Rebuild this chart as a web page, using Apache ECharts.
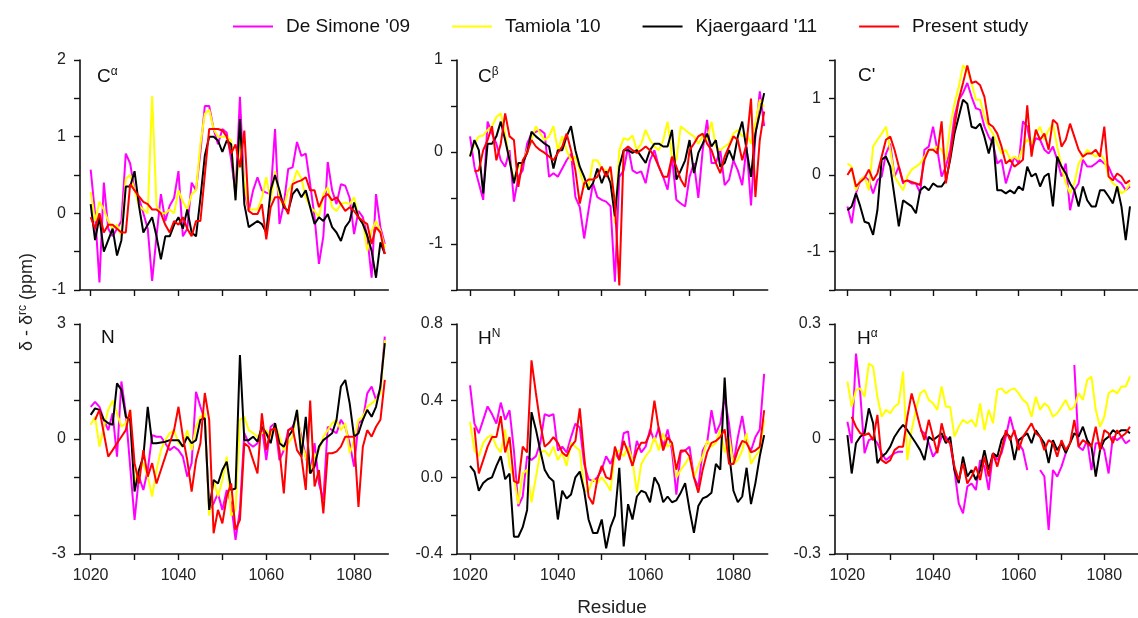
<!DOCTYPE html>
<html>
<head>
<meta charset="utf-8">
<script src="https://cdn.jsdelivr.net/npm/echarts@6/dist/echarts.min.js"></script>
<style>
  html, body { margin: 0; padding: 0; background: #fff; }
  #chart { width: 1138px; height: 618px; }
</style>
</head>
<body>
<div id="chart"></div>
<script>
var residues = [];
for (var r = 1020; r <= 1087; r++) residues.push(r);

var seriesNames = ["De Simone '09", "Tamiola '10", "Kjaergaard '11", 'Present study'];
var seriesColors = ['#ff00ff', '#ffff00', '#000000', '#ff0000'];

// C alpha
var caDeSimone = [0.57,0.0,-0.9,0.4,-0.2,-0.3,-0.2,-0.1,0.78,0.65, 0.3,0.2,0.0,-0.2,-0.88,-0.3,0.25,-0.1,0.1,0.2, 0.55,-0.3,-0.2,0.4,0.3,0.8,1.4,1.4,1.1,0.9, 1.1,1.05,0.7,0.25,1.52,0.3,0.03,0.3,0.47,0.3, 0.27,0.25,1.1,-0.14,0.12,0.58,0.6,0.93,0.75,0.78, 0.38,-0.05,-0.66,-0.3,0.67,0.3,0.12,0.38,0.36,0.2, -0.27,0.03,-0.05,-0.3,-0.84,0.25,-0.18,-0.4];
var caTamiola = [0.28,-0.1,0.15,0.05,-0.1,-0.2,-0.15,-0.3,0.45,0.5, 0.3,0.1,0.05,0.0,1.53,0.1,0.0,0.0,0.05,0.0, 0.3,0.15,0.05,0.25,0.3,0.9,1.3,1.35,1.1,1.0, 1.0,1.0,0.95,0.2,1.0,0.4,0.05,0.05,0.05,0.2, 0.47,0.16,0.55,0.21,0.08,0.3,0.38,0.56,0.45,0.21, 0.08,0.03,-0.05,0.25,0.34,0.08,0.03,0.12,0.14,0.12, 0.21,-0.05,-0.1,-0.49,-0.23,-0.1,-0.23,-0.45];
var caKjaergaard = [0.12,-0.35,-0.05,-0.5,-0.35,-0.2,-0.55,-0.35,0.35,0.35, 0.55,0.1,-0.25,-0.15,-0.05,-0.3,-0.6,-0.3,-0.3,-0.15, -0.05,-0.2,0.05,-0.25,-0.3,0.2,0.75,1.0,1.0,0.95, 0.8,0.95,0.9,0.17,1.23,0.12,-0.18,-0.14,-0.1,-0.14, -0.25,0.3,0.5,0.3,0.08,0.03,0.25,0.32,0.21,0.3, 0.08,-0.14,-0.05,-0.1,-0.01,-0.18,-0.25,-0.36,-0.18,-0.1, 0.14,-0.05,-0.14,-0.29,-0.49,-0.84,-0.38,-0.53];
var caPresent = [-0.05,-0.2,0.0,-0.25,-0.15,-0.15,-0.2,-0.25,-0.25,0.38, 0.3,0.22,0.15,0.12,0.05,0.05,0.0,-0.15,-0.25,-0.1, -0.15,-0.05,-0.2,-0.3,-0.1,-0.1,0.5,1.1,1.1,1.1, 1.08,1.0,0.78,0.9,0.6,1.08,0.03,-0.01,-0.01,0.12, -0.34,0.08,0.21,0.21,0.12,-0.01,0.38,0.41,0.43,0.47, 0.3,0.3,0.08,0.21,0.25,0.17,0.21,0.12,0.03,0.08, 0.03,-0.05,-0.1,-0.14,-0.4,-0.18,-0.25,-0.53];

// C beta
var cbDeSimone = [0.17,-0.16,-0.34,-0.52,0.33,0.2,0.09,-0.09,-0.16,0.02, -0.54,-0.27,-0.2,0.09,0.2,0.22,0.24,0.2,-0.27,-0.23, -0.27,-0.18,-0.09,-0.02,-0.49,-0.6,-0.94,-0.63,-0.34,-0.49, -0.52,-0.54,-0.59,-1.41,-0.27,-0.2,0.06,-0.2,-0.23,-0.21, -0.34,-0.09,0.02,-0.16,-0.27,-0.41,-0.05,-0.52,-0.56,-0.59, -0.27,-0.12,-0.5,0.02,0.35,-0.12,-0.12,0.02,-0.36,-0.3, -0.09,-0.2,-0.36,0.06,-0.58,0.17,0.66,0.28];
var cbTamiola = [-0.04,0.09,0.17,0.18,0.24,0.28,0.38,0.42,0.2,-0.09, -0.3,-0.16,-0.12,0.02,0.13,0.28,0.2,0.13,0.17,0.28, 0.02,0.17,0.02,-0.09,-0.05,-0.2,-0.38,-0.38,-0.09,-0.09, -0.18,-0.2,-0.2,-0.78,0.02,0.15,0.13,0.18,0.02,0.09, 0.24,0.13,0.06,0.02,0.13,0.33,-0.05,-0.09,0.28,0.24, 0.2,0.17,0.09,0.17,0.13,0.33,0.06,0.02,0.06,0.09, 0.2,0.24,0.17,0.2,0.09,0.31,0.57,0.49];
var cbKjaergaard = [-0.05,0.13,0.02,-0.45,0.09,0.09,0.17,0.33,0.13,-0.09, -0.34,-0.12,-0.12,-0.01,0.22,0.17,0.13,0.09,0.06,-0.18, 0.02,0.02,0.17,0.28,0.02,-0.16,-0.27,-0.41,-0.34,-0.18, -0.34,-0.21,-0.34,-0.7,-0.16,0.02,0.02,-0.01,0.02,-0.05, -0.12,0.02,0.09,0.09,0.06,0.06,0.24,-0.3,-0.2,-0.09, 0.13,-0.23,-0.01,0.09,0.2,0.06,0.13,-0.16,-0.12,0.02, -0.09,0.17,0.33,0.02,-0.27,0.2,0.42,0.64];
var cbPresent = [null,-0.21,-0.2,0.02,0.13,0.28,-0.09,0.09,0.42,0.17, 0.13,-0.38,-0.09,-0.01,0.13,0.06,0.02,-0.01,-0.05,-0.09, -0.01,0.06,0.2,0.02,-0.2,-0.56,-0.34,-0.3,-0.3,-0.27, -0.16,-0.27,-0.16,-0.56,-1.45,0.02,0.06,0.02,-0.01,0.02, 0.06,0.02,-0.05,-0.16,-0.27,-0.27,-0.05,-0.16,-0.3,-0.38, 0.02,0.09,0.17,0.2,0.09,0.02,-0.12,-0.23,-0.05,0.06, 0.17,0.13,-0.09,0.09,0.58,-0.49,0.13,0.44];

// C'
var cpDeSimone = [-0.41,-0.63,-0.24,-0.07,-0.02,-0.07,-0.24,-0.07,-0.02,0.28, 0.41,-0.02,0.11,-0.11,-0.07,-0.11,-0.11,-0.24,0.33,0.37, 0.63,0.33,-0.02,0.11,0.33,0.76,0.98,1.07,1.2,1.02, 0.87,0.85,0.63,0.5,0.41,0.15,0.2,-0.11,0.07,0.24, 0.15,0.7,0.63,0.33,0.48,0.46,0.33,0.28,0.37,0.2, -0.02,0.15,-0.46,-0.2,-0.11,0.2,0.11,0.11,0.15,0.2, 0.15,0.11,-0.02,-0.07,-0.11,-0.2,-0.15,null];
var cpTamiola = [0.15,0.11,-0.2,-0.07,-0.02,-0.2,0.37,0.46,0.54,0.63, 0.33,-0.02,-0.11,-0.2,-0.02,0.07,0.11,0.15,0.24,0.33, 0.33,0.37,0.33,0.2,0.63,0.93,1.15,1.43,1.37,1.2, 0.98,0.98,0.76,0.63,0.54,0.41,0.28,0.33,0.2,0.24, 0.2,0.37,0.46,0.41,0.54,0.63,0.46,0.59,0.67,0.37, 0.11,-0.11,-0.24,-0.11,0.15,0.24,0.33,0.28,0.24,0.28, 0.2,-0.02,-0.11,-0.15,-0.24,-0.2,-0.11,null];
var cpKjaergaard = [-0.46,-0.41,-0.24,-0.41,-0.61,-0.63,-0.78,-0.46,0.2,0.24, 0.11,-0.28,-0.67,-0.33,-0.37,-0.41,-0.5,-0.2,-0.15,-0.2, -0.11,-0.15,-0.15,-0.07,0.2,0.54,0.76,0.98,0.93,0.63, 0.61,0.67,0.5,0.28,0.5,-0.2,-0.2,-0.24,-0.2,-0.24, -0.15,-0.2,0.11,-0.02,0.02,-0.15,-0.02,0.02,-0.41,0.24, 0.11,0.02,-0.11,-0.2,-0.41,-0.15,-0.33,-0.41,-0.41,-0.2, -0.2,-0.28,-0.37,-0.15,-0.41,-0.85,-0.41,null];
var cpPresent = [0,0.09,-0.15,-0.09,-0.04,0.07,-0.07,0.02,0.24,0.46, 0.5,0.33,0.11,-0.09,-0.07,-0.09,-0.11,-0.13,0.2,0.33, 0.33,0.28,0.7,-0.11,0.24,0.63,0.98,1.2,1.43,1.2, 1.22,1.17,1.02,0.67,0.63,0.54,0.37,0.15,0.2,0.11, 0.15,0.2,0.91,0.24,0.59,0.46,0.54,0.33,0.72,0.67, 0.37,0.46,0.67,0.5,0.33,0.24,0.28,0.28,0.33,0.24, 0.63,-0.02,-0.07,0.02,-0.02,-0.11,-0.07,null];

// N
var nDeSimone = [0.84,0.97,0.84,0.5,0.23,0.67,-0.46,1.5,0.67,-0.72, -2.11,-0.98,-1.33,-0.81,0.1,0.06,0.06,-0.11,-0.29,-0.2, -0.29,-0.46,-0.98,-0.63,1.23,0.84,0.5,-1.85,-1.68,-1.42, -1.85,-1.33,-1.68,-2.63,-1.85,0.15,-0.11,-0.2,-0.11,0.32, -0.55,0.32,0.41,-0.55,-0.29,0.23,0.32,0.58,0.06,-0.46, -0.9,-0.11,-1.16,-1.59,0.32,0.23,0.15,0.5,0.32,-0.11, -0.72,0.41,0.5,1.19,1.37,1.02,1.28,2.67];
var nTamiola = [0.37,0.58,-0.2,0.32,0.76,1.0,0.67,0.32,0.41,0.76, -1.16,-0.81,-0.63,-0.98,-1.5,-0.81,-0.29,-0.03,0.15,0.23, -0.11,-0.2,0.23,-0.29,0.32,0.58,0.67,-2.0,-1.07,-1.5, -1.07,-0.46,-2.0,-1.85,0.5,0.58,0.23,0.15,0.06,0.15, 0.23,0.06,0.41,0.06,-0.29,-0.11,0.06,0.76,-0.11,-0.46, -0.9,-0.46,-0.29,0.06,0.23,0.41,0.5,0.23,0.41,-0.37, -0.03,0.5,0.58,0.84,0.93,1.02,1.19,2.58];
var nKjaergaard = [0.63,0.8,0.76,0.5,0.41,0.37,1.45,1.28,0.58,0.5, -1.37,-0.81,-0.46,0.84,-0.11,-0.11,-0.09,-0.07,-0.03,-0.03, -0.03,-0.2,0.06,-0.11,-0.03,0.5,0.54,-1.85,-1.07,-1.16, -0.81,-0.59,-1.33,-1.29,2.19,-0.03,-0.03,0.06,-0.07,0.32, 0.15,-0.11,0.41,-0.11,-0.2,0.06,0.23,0.76,-0.46,0.58, -0.9,-0.72,-0.2,-0.03,0.06,0.15,0.5,1.37,1.54,0.93, 0.06,0.15,0.5,0.76,0.58,0.84,1.37,2.5];
var nPresent = [null,0.5,0.76,0.15,-0.46,-0.29,-0.11,0.06,0.23,0.76, -0.63,-1.16,-0.29,-0.98,-0.63,-1.16,-0.81,-0.46,-0.11,0.23, 0.84,0.06,-0.55,-1.37,-0.55,-0.11,1.2,0.5,-2.46,-1.85, -2.2,-1.5,-1.16,-2.37,-2.11,-0.11,-0.2,-0.55,-0.9,0.67, -0.29,0.23,0.28,-0.29,-1.42,0.23,0.28,-0.29,-0.46,-1.33, 1.0,-1.24,-0.81,-1.94,-0.37,-0.37,-0.33,-0.2,0.06,0.06, 0.06,-1.77,-0.2,0.23,0.06,0.32,0.5,1.54];

// H N
var hnDeSimone = [0.48,0.28,0.23,0.3,0.37,0.33,0.28,0.39,0.3,0.35, 0.14,-0.15,-0.1,0.11,0.09,0.11,0.18,0.33,0.32,0.33, 0.14,0.16,0.13,0.21,0.28,0.26,0.07,-0.01,-0.02,0.0, 0.04,0.11,0.07,0.13,0.09,0.23,0.24,0.06,0.19,0.13, 0.16,0.25,0.19,0.26,0.16,0.25,0.14,-0.09,0.13,0.14, 0.16,0.0,-0.05,0.14,0.18,0.35,0.23,0.28,0.42,0.28, 0.07,0.21,0.32,0.18,0.14,0.21,0.25,0.54];
var hnTamiola = [0.29,0.14,0.11,0.18,0.21,0.22,0.16,0.13,0.25,0.06, 0.0,-0.14,0.02,0.04,-0.13,0.0,0.13,0.14,0.11,0.16, 0.09,0.13,0.06,0.18,0.16,0.14,-0.07,-0.07,-0.01,-0.03, 0.0,-0.03,-0.07,0.13,0.14,0.11,0.16,0.09,-0.08,0.07, 0.11,0.14,0.21,0.14,0.23,0.16,0.18,0.0,0.04,0.07, 0.11,0.0,0.06,0.11,0.19,0.16,0.18,0.25,0.13,0.21, 0.07,0.09,0.14,0.23,0.07,0.11,0.14,0.3];
var hnKjaergaard = [0.06,0.03,-0.07,-0.03,-0.01,0.0,0.06,0.11,-0.01,0.02, -0.31,-0.31,-0.26,-0.17,0.34,0.25,0.14,0.04,0.0,-0.02, -0.22,-0.07,-0.11,-0.09,0.0,0.03,-0.07,-0.22,-0.29,-0.29, -0.22,-0.37,-0.26,-0.2,0.05,-0.36,-0.14,-0.22,-0.1,-0.07, -0.08,-0.13,0.0,-0.04,-0.13,-0.1,-0.13,-0.12,-0.08,-0.03, -0.17,-0.29,-0.15,-0.11,-0.1,-0.08,0.07,0.04,0.52,0.13, -0.07,-0.13,-0.1,0.05,-0.14,-0.03,0.11,0.22];
var hnPresent = [null,0.26,0.02,0.09,0.16,0.21,0.21,0.32,0.13,0.21, -0.02,-0.03,0.16,0.13,0.61,0.44,0.28,0.16,0.18,0.21, 0.18,0.13,0.11,0.16,0.19,0.36,0.11,-0.1,-0.14,-0.01, 0.06,0.0,-0.01,0.16,0.09,0.19,0.13,0.06,0.14,0.18, 0.18,0.23,0.4,0.25,0.14,0.21,0.18,0.04,0.14,0.14, 0.11,0.0,-0.08,0.04,0.13,0.18,0.19,0.21,0.25,0.07, 0.07,0.14,0.19,0.18,0.13,0.14,0.16,0.35];

// H alpha
var haDeSimone = [0.045,-0.011,0.223,0.119,-0.037,-0.003,0.002,-0.011,-0.037,-0.055, -0.046,-0.037,-0.033,-0.033,null,null,null,0.023,0.015,-0.011, -0.046,-0.029,0.006,0.006,-0.011,-0.081,-0.168,-0.194,-0.124,-0.116, -0.133,-0.055,-0.072,-0.133,-0.037,-0.055,-0.037,0.006,0.058,0.015, -0.011,-0.029,-0.081,null,null,-0.081,-0.098,-0.237,-0.081,-0.098, -0.072,-0.037,null,0.193,-0.02,-0.029,-0.003,-0.081,-0.011,-0.011, -0.029,-0.09,0.006,-0.003,0.006,-0.011,-0.003,null];
var haTamiola = [0.15,0.084,0.128,0.132,0.11,0.197,0.189,0.11,0.058,0.076, 0.067,0.084,0.093,0.176,-0.055,0.023,0.076,0.119,0.128,0.102, 0.093,0.076,0.137,0.084,0.084,0.006,0.032,0.05,0.041,0.05, 0.032,0.093,0.023,0.076,0.041,0.128,0.132,0.119,0.128,0.132, 0.119,0.102,0.093,0.058,0.11,0.076,0.093,0.084,0.058,0.067, 0.084,0.102,0.076,0.084,0.119,0.102,0.154,0.163,0.076,0.032, 0.058,0.119,0.128,0.119,0.137,0.137,0.163,null];
var haKjaergaard = [0.01,-0.09,-0.011,0.006,0.015,0.08,0.041,-0.063,-0.046,-0.037, -0.02,0.006,0.023,0.037,0.023,0.006,-0.011,-0.029,-0.055,0.006, -0.003,0.006,0.015,-0.011,0.006,-0.081,-0.115,-0.046,-0.098,-0.081, -0.107,-0.081,-0.029,-0.081,-0.037,-0.046,-0.003,0.015,0.006,-0.055, -0.003,0.006,0.015,-0.011,0.023,0.006,-0.011,-0.063,-0.003,-0.029, -0.011,-0.037,-0.011,0.015,0.006,0.032,-0.003,-0.02,-0.098,-0.029, -0.003,0.006,0.023,0.015,0.023,0.023,0.015,null];
var haPresent = [null,0.058,0.032,0.015,0.01,0.015,-0.003,0.063,-0.055,-0.063, -0.055,-0.029,-0.02,-0.02,0.058,0.119,0.076,0.032,-0.003,0.05, 0.006,-0.037,0.041,-0.003,-0.011,-0.072,-0.107,-0.063,-0.116,-0.098, -0.072,-0.107,-0.046,-0.098,-0.037,-0.072,-0.029,0.023,-0.003,0.023, -0.029,0.006,0.023,0.041,0.015,0.006,-0.029,-0.003,-0.011,-0.046, -0.003,-0.029,-0.011,0.05,-0.02,-0.003,-0.011,-0.02,0.032,-0.029, 0.023,0.015,-0.011,0.023,0.006,0.015,0.032,null];

var xTicks = [1020, 1030, 1040, 1050, 1060, 1070, 1080];
var xLabels = [1020, 1040, 1060, 1080];

var panels = [
  { label: '{m|C}{s|α}', lx: 97, ly: 66, left: 80, top: 60, xmin: 1017.57, xmax: 1087.8,
    ymin: -1, ymax: 2, yTicks: [-1, -0.5, 0, 0.5, 1, 1.5, 2], yLabels: [-1, 0, 1, 2], dec: 0,
    data: [caDeSimone, caTamiola, caKjaergaard, caPresent], xl: false },
  { label: '{m|C}{s|β}', lx: 478, ly: 66, left: 457, top: 60, xmin: 1017.03, xmax: 1087.8,
    ymin: -1.5, ymax: 1, yTicks: [-1.5, -1, -0.5, 0, 0.5, 1], yLabels: [-1, 0, 1], dec: 0,
    data: [cbDeSimone, cbTamiola, cbKjaergaard, cbPresent], xl: false },
  { label: "{m|C'}", lx: 858, ly: 66, left: 835, top: 60, xmin: 1017.1, xmax: 1087.87,
    ymin: -1.5, ymax: 1.5, yTicks: [-1.5, -1, -0.5, 0, 0.5, 1, 1.5], yLabels: [-1, 0, 1], dec: 0,
    data: [cpDeSimone, cpTamiola, cpKjaergaard, cpPresent], xl: false },
  { label: '{m|N}', lx: 101, ly: 328, left: 80, top: 324, xmin: 1017.57, xmax: 1087.8,
    ymin: -3, ymax: 3, yTicks: [-3, -2, -1, 0, 1, 2, 3], yLabels: [-3, 0, 3], dec: 0,
    data: [nDeSimone, nTamiola, nKjaergaard, nPresent], xl: true },
  { label: '{m|H}{s|N}', lx: 478, ly: 328, left: 457, top: 324, xmin: 1017.03, xmax: 1087.8,
    ymin: -0.4, ymax: 0.8, yTicks: [-0.4, -0.2, 0, 0.2, 0.4, 0.6, 0.8], yLabels: [-0.4, 0, 0.4, 0.8], dec: 1,
    data: [hnDeSimone, hnTamiola, hnKjaergaard, hnPresent], xl: true },
  { label: '{m|H}{s|α}', lx: 857, ly: 328, left: 835, top: 324, xmin: 1017.1, xmax: 1087.87,
    ymin: -0.3, ymax: 0.3, yTicks: [-0.3, -0.2, -0.1, 0, 0.1, 0.2, 0.3], yLabels: [-0.3, 0, 0.3], dec: -1,
    data: [haDeSimone, haTamiola, haKjaergaard, haPresent], xl: true }
];

var font = 'Arial, "Liberation Sans", sans-serif';
var grids = [], xAxes = [], yAxes = [], series = [], graphics = [];

panels.forEach(function (p, i) {
  var pxPerRes = 4.39;
  grids.push({ left: p.left, top: p.top, width: (p.xmax - p.xmin) * pxPerRes, height: 230 });
  xAxes.push({
    gridIndex: i, type: 'value', min: p.xmin, max: p.xmax,
    axisLine: { show: true, onZero: false, lineStyle: { color: '#111', width: 1.6 } },
    axisTick: { show: true, length: 6, customValues: xTicks, lineStyle: { color: '#111', width: 1.4 } },
    axisLabel: {
      show: p.xl, customValues: xLabels, margin: 14, fontSize: 16, color: '#222', fontFamily: font,
      formatter: function (v) { return String(Math.round(v)); }
    },
    splitLine: { show: false }
  });
  yAxes.push({
    gridIndex: i, type: 'value', min: p.ymin, max: p.ymax,
    axisLine: { show: true, onZero: false, lineStyle: { color: '#111', width: 1.6 } },
    axisTick: { show: true, length: 6, customValues: p.yTicks, lineStyle: { color: '#111', width: 1.4 } },
    axisLabel: {
      customValues: p.yLabels, margin: 14, fontSize: 16, color: '#222', fontFamily: font,
      formatter: function (v) {
        if (p.dec === 1) return v.toFixed(1);
        if (p.dec === -1) return Math.abs(v) < 1e-9 ? '0' : v.toFixed(1);
        return String(Math.round(v));
      }
    },
    splitLine: { show: false }
  });
  p.data.forEach(function (vals, k) {
    series.push({
      name: seriesNames[k], type: 'line', xAxisIndex: i, yAxisIndex: i,
      showSymbol: false, symbol: 'none', connectNulls: false,
      lineStyle: { color: seriesColors[k], width: 2 },
      itemStyle: { color: seriesColors[k] },
      data: residues.map(function (r, j) { return [r, vals[j]]; })
    });
  });
  graphics.push({
    type: 'text', left: p.lx, top: p.ly,
    style: {
      text: p.label, fontFamily: font,
      rich: {
        m: { fontSize: 19, fill: '#111', fontFamily: font },
        s: { fontSize: 12, fill: '#111', fontFamily: font, padding: [0, 0, 9, 0] }
      }
    }
  });
});

graphics.push({
  type: 'text', x: 27, y: 302, rotation: Math.PI / 2,
  style: {
    text: 'δ - δ{s|rc} (ppm)', fontSize: 18, fill: '#222', fontFamily: font,
    align: 'center', verticalAlign: 'middle',
    rich: { s: { fontSize: 12, fill: '#222', fontFamily: font, padding: [0, 0, 8, 0] } }
  }
});
graphics.push({
  type: 'text', x: 612, y: 608,
  style: { text: 'Residue', fontSize: 19, fill: '#222', fontFamily: font, align: 'center', verticalAlign: 'middle' }
});

var myChart = echarts.init(document.getElementById('chart'), null, { renderer: 'canvas' });
var option = {
  animation: false,
  backgroundColor: '#fff',
  legend: {
    data: seriesNames, left: 228, top: 12, icon: 'rect', itemWidth: 40, itemHeight: 2, itemGap: 42,
    textStyle: { fontSize: 19, color: '#111', fontFamily: font, padding: [0, 0, 0, 8] }
  },
  grid: grids,
  xAxis: xAxes,
  yAxis: yAxes,
  series: series,
  graphic: graphics
};
option && myChart.setOption(option);
</script>
</body>
</html>
